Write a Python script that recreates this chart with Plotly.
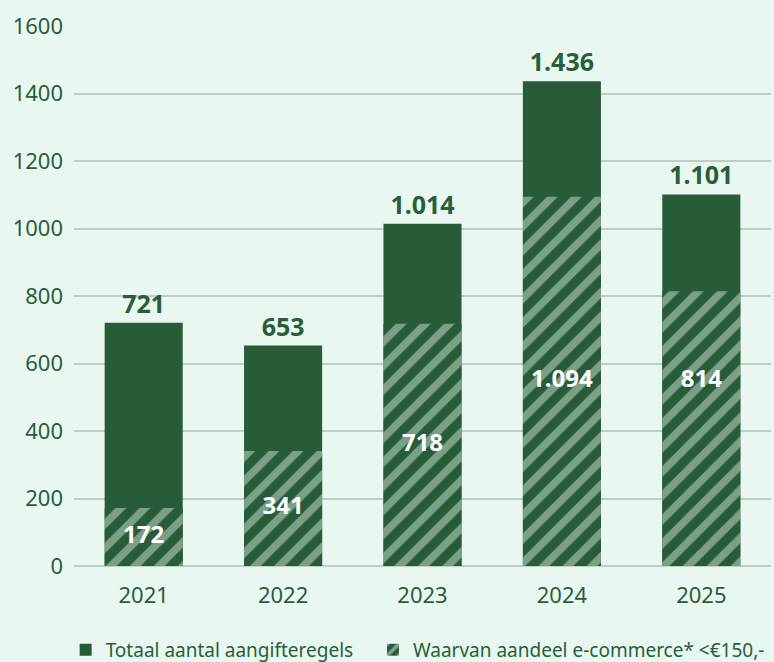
import plotly.graph_objects as go

years = ["2021", "2022", "2023", "2024", "2025"]
totaal = [721, 653, 1014, 1436, 1101]
ecommerce = [172, 341, 718, 1094, 814]
tick_vals = [0, 200, 400, 600, 800, 1000, 1200, 1400, 1600]

DARK = "#285c38"
STRIPE = "#7b9f87"
BG = "#e9f7f1"
GRID = "#bdcec4"
TXT = "#2a5d3a"
FONT = "Noto Sans"


def nl(v):
    return f"{v:,}".replace(",", ".")


# inner label positions: middle of hatched part; last one aligned with previous
label_y = [v / 2 for v in ecommerce]
label_y[-1] = label_y[-2]

fig = go.Figure()
fig.add_trace(go.Bar(
    x=years, y=totaal, name="Totaal aantal aangifteregels" + "\u00a0" * 3,
    marker=dict(color=DARK, line=dict(width=0)),
    text=[nl(v) for v in totaal], textposition="outside",
    textfont=dict(family=FONT, size=25, color=TXT, weight="bold"),
    cliponaxis=False,
))
fig.add_trace(go.Bar(
    x=years, y=ecommerce, name="Waarvan aandeel e-commerce* <€150,-",
    marker=dict(color=DARK, line=dict(width=0),
                pattern=dict(shape="/", fgcolor=STRIPE, bgcolor=DARK, fgopacity=1,
                             size=17, solidity=0.45, fillmode="overlay")),
))
fig.add_trace(go.Scatter(
    x=years, y=label_y, mode="text", text=[nl(v) for v in ecommerce],
    textfont=dict(family=FONT, size=24, color="white", weight="bold"),
    showlegend=False, hoverinfo="skip", cliponaxis=False,
))

fig.update_layout(
    width=774, height=662,
    margin=dict(l=74, r=3, t=26, b=96, autoexpand=False),
    paper_bgcolor=BG, plot_bgcolor=BG,
    barmode="overlay", bargap=0.44,
    font=dict(family=FONT, color=TXT),
    showlegend=True,
    legend=dict(orientation="h", x=-0.012, xanchor="left", y=-0.1556, yanchor="middle",
                font=dict(family=FONT, size=19, color=TXT),
                bgcolor="rgba(0,0,0,0)", traceorder="normal", itemclick=False),
)
fig.update_yaxes(range=[0, 1600], tickvals=tick_vals, tickformat="d",
                 showgrid=True, gridcolor=GRID, gridwidth=2,
                 zeroline=True, zerolinecolor=GRID, zerolinewidth=2,
                 showline=False, ticks="", ticklabelstandoff=10,
                 tickfont=dict(family=FONT, size=22, color=TXT))
fig.update_xaxes(showgrid=False, showline=False, ticks="", ticklabelstandoff=14,
                 tickfont=dict(family=FONT, size=22, color=TXT))

fig.write_html("out.html", config={"displayModeBar": False},
               post_script="document.body.style.margin='0';document.body.style.background='%s';" % BG)
